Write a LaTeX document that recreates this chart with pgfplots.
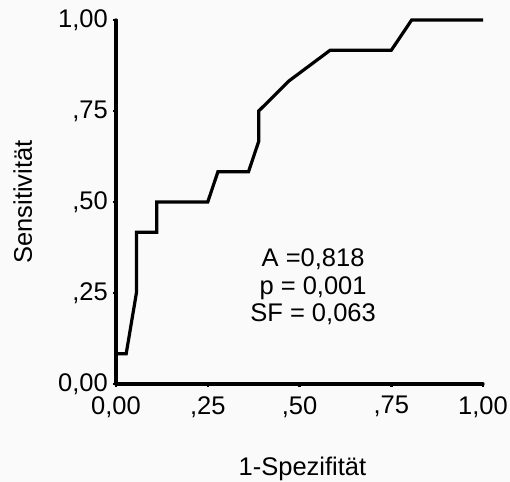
\documentclass[border=0pt]{standalone}
\usepackage{pgfplots}
\pgfplotsset{compat=1.18}
\usepackage{fontspec}
\setmainfont{Liberation Sans}
\newcommand\chartfont{\fontsize{25.5bp}{30bp}\selectfont}
\definecolor{paper}{RGB}{250,250,250}

% ROC curve points (1 - specificity, sensitivity)
\pgfplotstableread{
fpr     tpr
0.0000  0.0000
0.0000  0.0833
0.0278  0.0833
0.0556  0.2500
0.0556  0.4167
0.1111  0.4167
0.1111  0.5000
0.2500  0.5000
0.2778  0.5833
0.3611  0.5833
0.3889  0.6667
0.3889  0.7500
0.4722  0.8333
0.5833  0.9167
0.7500  0.9167
0.8056  1.0000
1.0000  1.0000
}\roc

\begin{document}
\begin{tikzpicture}[font=\chartfont]
\fill[paper] (-116bp,-98bp) rectangle (394bp,384bp);
\path[use as bounding box] (-116bp,-98bp) rectangle (394bp,384bp);
\begin{axis}[
  at={(0,0)}, anchor=south west,
  scale only axis, width=367bp, height=364bp,
  xmin=0, xmax=1, ymin=0, ymax=1,
  axis x line=bottom, axis y line=left,
  axis line style={line width=3.3bp, -, line cap=round},
  xtick={0,0.25,0.5,0.75,1},
  ytick={0,0.25,0.5,0.75,1},
  xticklabels={{0,00},{,25},{,50},{,75},{1,00}},
  yticklabels={{0,00},{,25},{,50},{,75},{1,00}},
  tick align=outside, major tick length=3bp,
  tick style={line width=2.5bp, black},
  xticklabel style={inner sep=0pt, anchor=north, yshift=-9bp},
  yticklabel style={inner sep=0pt, anchor=east, xshift=-5bp},
  xlabel={1-Spezifität},
  ylabel={Sensitivität},
  xlabel style={at={(axis description cs:0.508,-0.2507)}, anchor=base, inner sep=0pt},
  ylabel style={at={(axis description cs:-0.229,0.5)}, anchor=base, inner sep=0pt},
  clip=false,
]
\addplot[black, line width=3.2bp, line join=miter] table[x=fpr, y=tpr] {\roc};
\node[anchor=base] at (axis cs:0.537,0.322) {A =0,818};
\node[anchor=base] at (axis cs:0.537,0.2466) {p = 0,001};
\node[anchor=base] at (axis cs:0.537,0.171) {SF = 0,063};
\end{axis}
\end{tikzpicture}
\end{document}
